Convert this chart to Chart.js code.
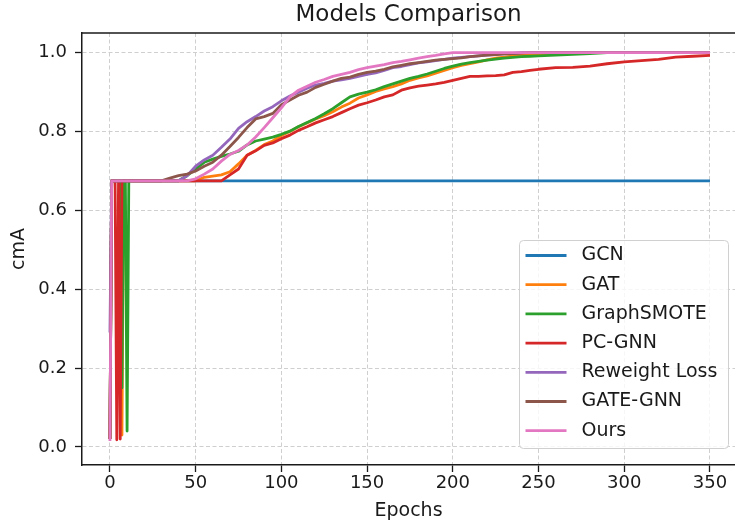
<!DOCTYPE html>
<html>
<head>
<meta charset="utf-8">
<script src="https://cdn.jsdelivr.net/npm/chart.js@4.4.1/dist/chart.umd.min.js"></script>
<style>
html,body{margin:0;padding:0;background:#fff;overflow:hidden}
#wrap{width:735px;height:525px}
</style>
</head>
<body>
<div id="wrap"><canvas id="c" width="735" height="525"></canvas></div>
<script>
// ---- data ----
const epochs = [0,1,2,3,4,5,6,7,8,9,10,11,12,
  15,20,25,30,35,40,45,50,55,60,65,70,75,80,85,90,95,100,105,110,115,120,125,130,135,140,145,150,
  155,160,165,170,175,180,185,190,195,200,205,210,215,220,225,230,235,240,245,250,
  260,270,280,290,300,310,320,330,340,350];

const gcn = [0.02,0.675,0.675,0.675,0.675,0.675,0.675,0.675,0.675,0.675,0.675,0.675,0.675,
  0.675,0.675,0.675,0.675,0.675,0.675,0.675,0.675,0.675,0.675,0.675,0.675,0.675,0.675,0.675,0.675,0.675,0.675,0.675,0.675,0.675,0.675,0.675,0.675,0.675,0.675,0.675,0.675,
  0.675,0.675,0.675,0.675,0.675,0.675,0.675,0.675,0.675,0.675,0.675,0.675,0.675,0.675,0.675,0.675,0.675,0.675,0.675,0.675,
  0.675,0.675,0.675,0.675,0.675,0.675,0.675,0.675,0.675,0.675];

const gat = [0.02,0.675,0.675,0.675,0.675,0.675,0.675,0.03,0.675,0.675,0.675,0.675,0.675,
  0.675,0.675,0.675,0.675,0.675,0.675,0.675,0.675,0.684,0.687,0.690,0.698,0.718,0.740,0.752,0.767,0.776,0.790,0.800,0.812,0.822,0.832,0.840,0.850,0.862,0.872,0.885,0.893,
  0.902,0.908,0.914,0.921,0.930,0.936,0.941,0.948,0.955,0.962,0.968,0.972,0.977,0.982,0.986,0.989,0.992,0.994,0.995,0.997,
  0.999,1.0,1.0,1.0,1.0,1.0,1.0,1.0,1.0,1.0];

const graphSmote = [0.02,0.675,0.675,0.675,0.675,0.675,0.675,0.15,0.675,0.675,0.04,0.675,0.675,
  0.675,0.675,0.675,0.675,0.675,0.675,0.688,0.705,0.722,0.730,0.737,0.743,0.750,0.766,0.776,0.781,0.786,0.793,0.801,0.813,0.823,0.833,0.845,0.858,0.873,0.888,0.895,0.900,
  0.906,0.914,0.921,0.928,0.935,0.940,0.946,0.953,0.960,0.966,0.971,0.975,0.978,0.981,0.984,0.986,0.988,0.990,0.991,0.992,
  0.994,0.996,0.998,1.0,1.0,1.0,1.0,1.0,1.0,1.0];

const pcGnn = [0.02,0.675,0.675,0.675,0.018,0.675,0.02,0.675,0.675,0.675,0.675,0.675,0.675,
  0.675,0.675,0.675,0.675,0.675,0.675,0.675,0.675,0.675,0.675,0.675,0.690,0.705,0.740,0.751,0.765,0.771,0.782,0.791,0.803,0.812,0.822,0.830,0.838,0.848,0.858,0.867,0.873,
  0.880,0.888,0.893,0.905,0.911,0.915,0.918,0.921,0.925,0.930,0.935,0.940,0.940,0.941,0.942,0.944,0.950,0.952,0.955,0.958,
  0.962,0.963,0.966,0.972,0.977,0.980,0.983,0.989,0.991,0.993];

const reweight = [0.29,0.675,0.675,0.675,0.675,0.675,0.675,0.675,0.675,0.675,0.675,0.675,0.675,
  0.675,0.675,0.675,0.675,0.675,0.675,0.688,0.712,0.728,0.740,0.760,0.781,0.808,0.825,0.838,0.852,0.863,0.878,0.890,0.900,0.910,0.918,0.922,0.928,0.931,0.935,0.940,0.945,
  0.949,0.955,0.962,0.965,0.970,0.974,0.977,0.980,0.983,0.986,0.988,0.990,0.992,0.994,0.995,0.997,0.998,1.0,1.0,1.0,
  1.0,1.0,1.0,1.0,1.0,1.0,1.0,1.0,1.0,1.0];

const gateGnn = [0.02,0.675,0.675,0.675,0.675,0.675,0.675,0.675,0.675,0.675,0.675,0.675,0.675,
  0.675,0.675,0.675,0.675,0.682,0.688,0.692,0.700,0.712,0.722,0.740,0.762,0.785,0.810,0.832,0.838,0.846,0.868,0.880,0.892,0.900,0.912,0.920,0.928,0.935,0.938,0.945,0.950,
  0.953,0.958,0.964,0.968,0.972,0.975,0.978,0.981,0.983,0.985,0.987,0.990,0.992,0.994,0.995,0.997,0.998,0.999,1.0,1.0,
  1.0,1.0,1.0,1.0,1.0,1.0,1.0,1.0,1.0,1.0];

const ours = [0.015,0.675,0.675,0.675,0.675,0.675,0.675,0.675,0.675,0.675,0.675,0.675,0.675,
  0.675,0.675,0.675,0.675,0.675,0.675,0.675,0.680,0.692,0.705,0.725,0.742,0.752,0.766,0.786,0.810,0.835,0.860,0.888,0.905,0.915,0.925,0.932,0.940,0.945,0.950,0.957,0.962,
  0.966,0.970,0.975,0.978,0.982,0.986,0.990,0.993,0.997,1.0,1.0,1.0,1.0,1.0,1.0,1.0,1.0,1.0,1.0,1.0,
  1.0,1.0,1.0,1.0,1.0,1.0,1.0,1.0,1.0,1.0];

const seriesNames = ['GCN','GAT','GraphSMOTE','PC-GNN','Reweight Loss','GATE-GNN','Ours'];
const seriesValues = [gcn, gat, graphSmote, pcGnn, reweight, gateGnn, ours];
const seriesColors = ['#1f77b4','#ff7f0e','#2ca02c','#d62728','#9467bd','#8c564b','#e377c2'];
const xTicks = [0,50,100,150,200,250,300,350];
const yTicks = [0.0,0.2,0.4,0.6,0.8,1.0];

// ---- chart ----
const FONT = '"DejaVu Sans", "Liberation Sans", sans-serif';
const TXT = '#1a1a1a';

const datasets = seriesNames.map((name, i) => ({
  label: name,
  data: epochs.map((e, k) => ({x: e, y: seriesValues[i][k]})),
  borderColor: seriesColors[i],
  backgroundColor: seriesColors[i],
  borderWidth: 2.8,
  pointRadius: 0,
  tension: 0,
  fill: false,
  borderJoinStyle: 'round',
  order: seriesNames.length - 1 - i
}));

const framePlugin = {
  id: 'frameTop',
  afterDraw(chart) {
    const a = chart.chartArea, ctx = chart.ctx;
    ctx.save();
    ctx.strokeStyle = TXT;
    ctx.lineWidth = 1.5;
    ctx.beginPath();
    ctx.moveTo(a.left - 0.75, a.top);
    ctx.lineTo(a.right, a.top);
    ctx.stroke();
    ctx.restore();
  }
};

const legendPlugin = {
  id: 'boxLegend',
  afterDatasetsDraw(chart) {
    const a = chart.chartArea, ctx = chart.ctx;
    const ds = chart.data.datasets;
    const w = 209, h = 208;
    const x0 = a.right - 6.5 - w, y0 = a.bottom - 16.5 - h;
    const r = 4;
    ctx.save();
    ctx.beginPath();
    ctx.moveTo(x0 + r, y0);
    ctx.lineTo(x0 + w - r, y0);
    ctx.quadraticCurveTo(x0 + w, y0, x0 + w, y0 + r);
    ctx.lineTo(x0 + w, y0 + h - r);
    ctx.quadraticCurveTo(x0 + w, y0 + h, x0 + w - r, y0 + h);
    ctx.lineTo(x0 + r, y0 + h);
    ctx.quadraticCurveTo(x0, y0 + h, x0, y0 + h - r);
    ctx.lineTo(x0, y0 + r);
    ctx.quadraticCurveTo(x0, y0, x0 + r, y0);
    ctx.closePath();
    ctx.fillStyle = 'rgba(255,255,255,0.8)';
    ctx.fill();
    ctx.strokeStyle = '#d0d0d0';
    ctx.lineWidth = 1;
    ctx.stroke();
    ctx.font = '19px ' + FONT;
    ctx.textBaseline = 'middle';
    ctx.textAlign = 'left';
    ds.forEach((d, i) => {
      const yy = y0 + 15 + i * 29.2;
      ctx.strokeStyle = d.borderColor;
      ctx.lineWidth = 2.8;
      ctx.beginPath();
      ctx.moveTo(x0 + 6, yy);
      ctx.lineTo(x0 + 47, yy);
      ctx.stroke();
      ctx.fillStyle = TXT;
      ctx.fillText(d.label, x0 + 62, yy);
    });
    ctx.restore();
  }
};

new Chart(document.getElementById('c'), {
  type: 'line',
  data: {datasets},
  plugins: [legendPlugin, framePlugin],
  options: {
    responsive: false,
    animation: false,
    devicePixelRatio: 1,
    layout: {padding: 0},
    plugins: {
      legend: {display: false},
      tooltip: {enabled: false},
      title: {
        display: true,
        text: 'Models Comparison',
        fullSize: false,
        color: TXT,
        font: {family: FONT, size: 23, weight: 'normal', lineHeight: 1.2},
        padding: {top: 1, bottom: 4.4}
      }
    },
    scales: {
      x: {
        type: 'linear',
        min: -16.3,
        max: 364.6,
        afterBuildTicks: s => { s.ticks = xTicks.map(v => ({value: v})); },
        afterFit: s => { s.height = 60; },
        ticks: {
          color: TXT,
          font: {family: FONT, size: 18, lineHeight: 1.2},
          padding: 1,
          maxRotation: 0,
          callback: v => String(v)
        },
        grid: {color: '#cfcfcf', lineWidth: 1, tickLength: 7, tickColor: TXT, tickWidth: 1.3},
        border: {color: TXT, width: 1.5, dash: [4, 2.5]},
        title: {display: true, text: 'Epochs', color: TXT,
          font: {family: FONT, size: 19, lineHeight: 1.2}, padding: {top: 0, bottom: 2.2}}
      },
      y: {
        type: 'linear',
        min: -0.046,
        max: 1.05,
        afterBuildTicks: s => { s.ticks = yTicks.map(v => ({value: v})); },
        afterFit: s => { s.width = 82; },
        ticks: {
          color: TXT,
          font: {family: FONT, size: 18, lineHeight: 1.2},
          padding: 8,
          callback: v => Number(v).toFixed(1)
        },
        grid: {color: '#cfcfcf', lineWidth: 1, tickLength: 7, tickColor: TXT, tickWidth: 1.3},
        border: {color: TXT, width: 1.5, dash: [4, 2.5]},
        title: {display: true, text: 'cmA', color: TXT,
          font: {family: FONT, size: 19, lineHeight: 1.2}, padding: {top: 8, bottom: 0}}
      }
    }
  }
});
</script>
</body>
</html>
